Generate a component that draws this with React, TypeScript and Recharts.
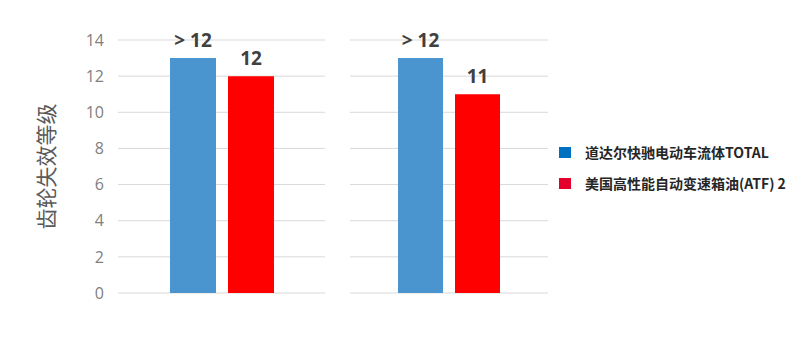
import { BarChart, Bar, XAxis, YAxis, CartesianGrid, LabelList, Label } from "recharts";

const groups = ["组1", "组2"];
const totalValues = [13, 13];
const atfValues = [12, 11];
const totalLabels = ["> 12", "> 12"];
const atfLabels = ["12", "11"];
const yTicks = [0, 2, 4, 6, 8, 10, 12, 14];
const seriesNames = ["道达尔快驰电动车流体TOTAL", "美国高性能自动变速箱油(ATF) 2"];

const BLUE = "#4a94cf";
const RED = "#ff0000";
const GRID = "#d9d9d9";
const FONT = "'Noto Sans CJK SC', 'Open Sans', sans-serif";

const rows = groups.map((g, i) => ({
  name: g,
  total: totalValues[i],
  atf: atfValues[i],
  totalLabel: totalLabels[i],
  atfLabel: atfLabels[i],
}));

const valueLabelStyle = { fill: "#404040", fontSize: 19, fontWeight: 700, fontFamily: "'Open Sans', sans-serif" };

function AxisTitle(props: any) {
  const vb = props.viewBox;
  const cx = vb.x - 33;
  const cy = vb.y + vb.height / 2;
  return (
    <text
      x={cx}
      y={cy}
      transform={`rotate(-90 ${cx} ${cy})`}
      textAnchor="middle"
      dominantBaseline="central"
      fill="#595959"
      fontSize={21}
      fontFamily={FONT}
    >
      齿轮失效等级
    </text>
  );
}

function Group({ index, width, left, barSize, showAxis }: { index: number; width: number; left: number; barSize: number; showAxis: boolean }) {
  return (
    <BarChart
      width={width}
      height={352}
      data={[rows[index]]}
      margin={{ top: 40, right: 0, bottom: 59, left }}
      barGap={12}
      barSize={barSize}
    >
      <CartesianGrid horizontal vertical={false} stroke={GRID} strokeWidth={1} />
      <XAxis dataKey="name" hide />
      <YAxis
        domain={[0, 14]}
        ticks={yTicks}
        hide={!showAxis}
        width={40}
        axisLine={false}
        tickLine={false}
        tickMargin={8}
        tick={{ fill: "#808080", fontSize: 16, fontFamily: "'Open Sans', sans-serif" }}
      >
        {showAxis && <Label content={AxisTitle} />}
      </YAxis>
      <Bar dataKey="total" fill={BLUE} isAnimationActive={false}>
        <LabelList dataKey="totalLabel" position="top" offset={11} style={valueLabelStyle} />
      </Bar>
      <Bar dataKey="atf" fill={RED} isAnimationActive={false}>
        <LabelList dataKey="atfLabel" position="top" offset={11} style={valueLabelStyle} />
      </Bar>
    </BarChart>
  );
}

export default function App() {
  const legendColors = ["#0070c0", "#e4002b"];
  return (
    <div style={{ position: "absolute", left: 0, top: 0, width: 800, height: 352, background: "#fff", overflow: "hidden" }}>
      <div style={{ position: "absolute", left: 0, top: 0 }}>
        <Group index={0} width={325} left={78} barSize={46} showAxis />
      </div>
      <div style={{ position: "absolute", left: 350, top: 0 }}>
        <Group index={1} width={198} left={0} barSize={45} showAxis={false} />
      </div>
      <div style={{ position: "absolute", left: 559, top: 142, fontFamily: FONT, fontWeight: 700, fontSize: 14, color: "#262626" }}>
        {seriesNames.map((n, i) => (
          <div key={n} style={{ display: "flex", alignItems: "center", height: 20, marginBottom: i === 0 ? 11 : 0 }}>
            <span style={{ display: "inline-block", width: 12, height: 11, background: legendColors[i], marginRight: 14 }} />
            <span>{n}</span>
          </div>
        ))}
      </div>
    </div>
  );
}
